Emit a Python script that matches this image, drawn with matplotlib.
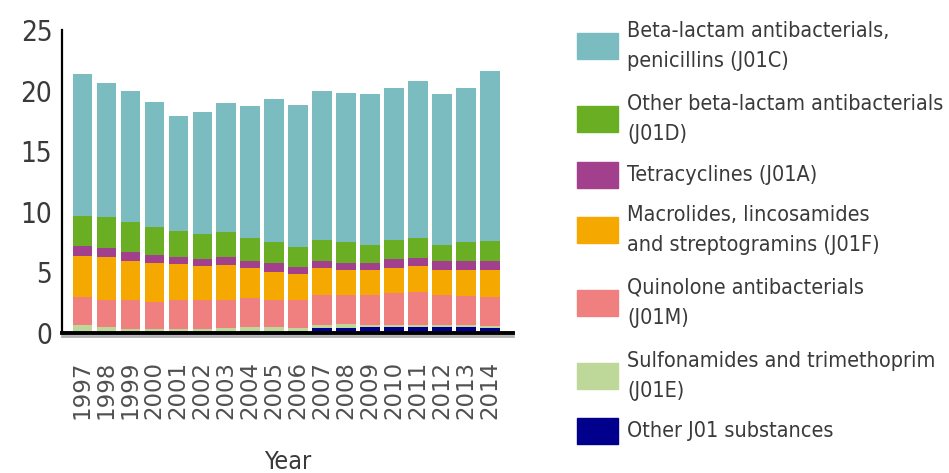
import matplotlib
matplotlib.use("Agg")
import matplotlib.pyplot as plt
from matplotlib.patches import Rectangle
import numpy as np

years = [str(y) for y in range(1997, 2015)]

# DDD per 1000 inhabitants per day, stacked bottom to top
other_j01 = [0.0, 0.0, 0.0, 0.0, 0.0, 0.0, 0.1, 0.2, 0.1, 0.2, 0.45, 0.45, 0.5, 0.5, 0.5, 0.5, 0.5, 0.4]
sulfonamides = [0.7, 0.5, 0.3, 0.3, 0.3, 0.3, 0.3, 0.3, 0.4, 0.2, 0.25, 0.3, 0.2, 0.2, 0.2, 0.2, 0.2, 0.2]
quinolones = [2.28, 2.23, 2.43, 2.26, 2.43, 2.43, 2.33, 2.4, 2.23, 2.33, 2.45, 2.4, 2.45, 2.6, 2.7, 2.45, 2.35, 2.4]
macrolides = [3.38, 3.55, 3.22, 3.24, 2.97, 2.77, 2.87, 2.45, 2.32, 2.17, 2.2, 2.05, 2.05, 2.05, 2.15, 2.05, 2.15, 2.2]
tetracyclines = [0.83, 0.72, 0.74, 0.65, 0.58, 0.6, 0.68, 0.55, 0.75, 0.55, 0.6, 0.6, 0.6, 0.75, 0.65, 0.75, 0.75, 0.75]
other_beta_lactam = [2.48, 2.6, 2.48, 2.31, 2.12, 2.1, 2.02, 1.9, 1.7, 1.65, 1.75, 1.7, 1.5, 1.6, 1.65, 1.35, 1.55, 1.65]
penicillins = [11.73, 11.0, 10.83, 10.34, 9.5, 10.0, 10.7, 10.9, 11.8, 11.7, 12.3, 12.3, 12.4, 12.5, 12.95, 12.4, 12.7, 14.0]

series = [
    (other_j01, "#00008c", "Other J01 substances"),
    (sulfonamides, "#bdd898", "Sulfonamides and trimethoprim\n(J01E)"),
    (quinolones, "#f08080", "Quinolone antibacterials\n(J01M)"),
    (macrolides, "#f5a800", "Macrolides, lincosamides\nand streptogramins (J01F)"),
    (tetracyclines, "#a3408e", "Tetracyclines (J01A)"),
    (other_beta_lactam, "#6aae23", "Other beta-lactam antibacterials\n(J01D)"),
    (penicillins, "#7bbcc0", "Beta-lactam antibacterials,\npenicillins (J01C)"),
]

W, H = 949, 473
fig = plt.figure(figsize=(W / 100, H / 100), dpi=100)
ax = fig.add_axes([62 / W, 1 - 333 / H, (513 - 62) / W, (333 - 30) / H])

text_col = "#3a3a3a"
x = np.arange(len(years))
bottom = np.zeros(len(years))
for vals, col, lab in series:
    ax.bar(x, vals, width=0.82, bottom=bottom, color=col, label=lab)
    bottom += np.array(vals)

ax.set_xlim(-0.85, len(years) - 0.05)
ax.set_ylim(0, 25)
ax.set_yticks([0, 5, 10, 15, 20, 25])
ax.set_xticks(x)
ax.set_xticklabels(years, rotation=90, fontsize=16.5, color="#505050")
ax.tick_params(axis="x", length=0, pad=20)
ax.tick_params(axis="y", length=0, pad=7, labelsize=20, labelcolor=text_col)
for t in ax.get_yticklabels():
    t.set_fontstretch("condensed")
for s in ("top", "right"):
    ax.spines[s].set_visible(False)
ax.spines["left"].set_linewidth(1.6)
ax.spines["bottom"].set_linewidth(2.8)
# soft grey shadow under the base line
ax.axhline(-0.25, color="#b0b0b0", lw=2.0, clip_on=False, zorder=0)
ax.set_xlabel("Year", fontsize=18, color=text_col, labelpad=22, fontstretch="condensed")

# legend drawn by hand, top entry first
centers = [46, 119, 175, 230, 303, 376, 431]
for (vals, col, lab), yc in zip(series[::-1], centers):
    fig.add_artist(Rectangle((577 / W, 1 - (yc + 13) / H), 41 / W, 26 / H,
                             transform=fig.transFigure, color=col))
    fig.text(627 / W, 1 - yc / H, lab, fontsize=15.5, color=text_col,
             va="center", ha="left", linespacing=1.66, fontstretch="condensed")

fig.savefig("out.png", dpi=100)
